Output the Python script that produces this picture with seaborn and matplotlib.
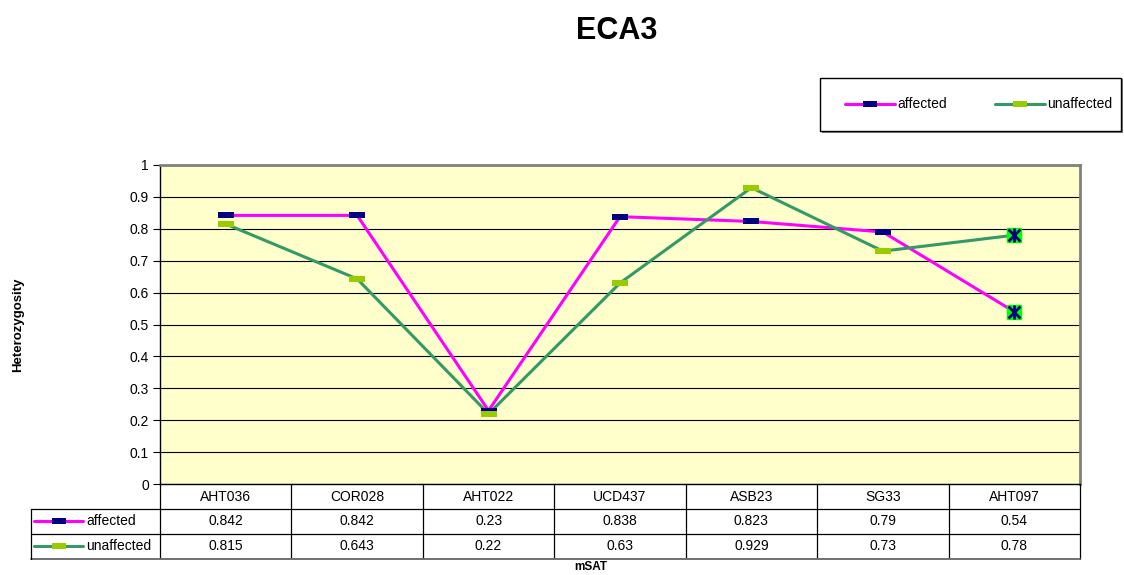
import numpy as np
import pandas as pd
import matplotlib
matplotlib.use("Agg")
import matplotlib.pyplot as plt
import seaborn as sns
from matplotlib.lines import Line2D
from matplotlib.patches import Rectangle
from matplotlib.path import Path
from matplotlib.transforms import blended_transform_factory

# ---------------- data ----------------
categories = ["AHT036", "COR028", "AHT022", "UCD437", "ASB23", "SG33", "AHT097"]
affected = [0.842, 0.842, 0.23, 0.838, 0.823, 0.79, 0.54]
unaffected = [0.815, 0.643, 0.22, 0.63, 0.929, 0.73, 0.78]
series_names = ["affected", "unaffected"]
ytick_values = [0, 0.1, 0.2, 0.3, 0.4, 0.5, 0.6, 0.7, 0.8, 0.9, 1]
ytick_labels = ["0", "0.1", "0.2", "0.3", "0.4", "0.5", "0.6", "0.7", "0.8", "0.9", "1"]
affected_labels = ["0.842", "0.842", "0.23", "0.838", "0.823", "0.79", "0.54"]
unaffected_labels = ["0.815", "0.643", "0.22", "0.63", "0.929", "0.73", "0.78"]
title = "ECA3"
xlabel = "mSAT"
ylabel = "Heterozygosity"

# ---------------- style ----------------
sns.set_theme(style="white")
plt.rcParams["font.family"] = ["Liberation Sans", "DejaVu Sans"]
plt.rcParams["text.color"] = "black"
plt.rcParams["ytick.color"] = "black"
plt.rcParams["ytick.labelcolor"] = "black"

line_colors = {"affected": "#FF00FF", "unaffected": "#339966"}
marker_colors = {"affected": "#000080", "unaffected": "#99CC00"}

W, H = 1124, 575
fig = plt.figure(figsize=(W / 100, H / 100), dpi=100)
fig.patch.set_facecolor("white")

def fx(px):
    return px / W

def fy(py):
    return 1 - py / H

left_px, right_px, top_px, bottom_px = 160, 1080, 165, 484
ax = fig.add_axes([fx(left_px), fy(bottom_px), fx(right_px) - fx(left_px), fy(top_px) - fy(bottom_px)])
ax.set_facecolor("#FFFFCC")

df = pd.DataFrame({
    "mSAT": categories * 2,
    "pos": list(range(len(categories))) * 2,
    "value": affected + unaffected,
    "group": ["affected"] * len(categories) + ["unaffected"] * len(categories),
})

sns.lineplot(data=df, x="pos", y="value", hue="group", palette=line_colors,
             sort=False, linewidth=2.2, legend=False, ax=ax, zorder=3)

# dash-like rectangle marker
rect_marker = Path([(-1, -0.35), (1, -0.35), (1, 0.35), (-1, 0.35), (-1, -0.35)],
                   [Path.MOVETO, Path.LINETO, Path.LINETO, Path.LINETO, Path.CLOSEPOLY])

n = len(categories)
last = n - 1
for name, vals in zip(series_names, [affected, unaffected]):
    xs = np.arange(n)
    ax.plot(xs[:last], vals[:last], ls="none", marker=rect_marker, ms=11.5,
            mfc=marker_colors[name], mec=marker_colors[name], mew=0, zorder=4)
    # last point: Excel-style square with asterisk
    ax.plot([xs[last]], [vals[last]], ls="none", marker="s", ms=10,
            mfc="#00FF00", mec="#00FF00", zorder=5)
    ax.plot([xs[last]], [vals[last]], ls="none", marker="x", ms=9,
            mec="#000080", mew=2, zorder=6)
    ax.plot([xs[last]], [vals[last]], ls="none", marker="|", ms=10,
            mec="#000080", mew=2, zorder=6)

ax.set_xlim(-0.5, n - 0.5)
ax.set_ylim(0, 1)
ax.set_yticks(ytick_values)
ax.set_yticklabels(ytick_labels, fontsize=10, color="black")
ax.set_xticks([])
ax.set_xlabel("")
ax.set_ylabel("")
ax.yaxis.grid(True, color="black", linewidth=0.8)
ax.set_axisbelow(True)
ax.tick_params(axis="y", direction="out", length=5, width=0.8, color="black", pad=3, left=True)
ax.spines["left"].set_color("black")
ax.spines["left"].set_linewidth(1)
ax.spines["bottom"].set_color("black")
ax.spines["bottom"].set_linewidth(1)
for s in ["top", "right"]:
    ax.spines[s].set_color("#808080")
    ax.spines[s].set_linewidth(2)

# ---------------- data table ----------------
tr = blended_transform_factory(ax.transData, fig.transFigure)
row_y = [484, 509, 534, 559]
table_left = 31
lw = 0.9
tfs = 10
# vertical column lines
for i in range(n + 1):
    xv = -0.5 + i
    fig.add_artist(Line2D([xv, xv], [fy(row_y[0]), fy(row_y[3])], transform=tr,
                          color="black", lw=lw))
# horizontal lines
for k, yy in enumerate(row_y[1:]):
    fig.add_artist(Line2D([fx(table_left), fx(right_px)], [fy(yy), fy(yy)],
                          color="black" if k < 2 else "#707070", lw=lw if k < 2 else 1.4))
fig.add_artist(Line2D([fx(table_left), fx(table_left)], [fy(row_y[1]), fy(row_y[3])],
                      color="black", lw=lw))

for i, cat in enumerate(categories):
    fig.text(i, fy(497), cat, transform=tr, ha="center", va="center", fontsize=tfs)
    fig.text(i, fy(521), affected_labels[i], transform=tr, ha="center", va="center", fontsize=tfs)
    fig.text(i, fy(546), unaffected_labels[i], transform=tr, ha="center", va="center", fontsize=tfs)

def legend_key(x0, x1, yc, name):
    fig.add_artist(Line2D([fx(x0), fx(x1)], [fy(yc), fy(yc)], color=line_colors[name], lw=2.2))
    fig.add_artist(Line2D([fx((x0 + x1) / 2)], [fy(yc)], ls="none", marker=rect_marker,
                          ms=10.5, mfc=marker_colors[name], mec=marker_colors[name], mew=0))

for name, yc in zip(series_names, [521, 546]):
    legend_key(34, 83, yc, name)
    fig.text(fx(86), fy(yc), name, ha="left", va="center", fontsize=tfs)

# ---------------- top legend ----------------
fig.add_artist(Rectangle((fx(822), fy(133)), fx(1123) - fx(822), fy(79) - fy(133),
                         facecolor="#808080", edgecolor="none", zorder=1))
fig.add_artist(Rectangle((fx(820), fy(131)), fx(1121) - fx(820), fy(78) - fy(131),
                         facecolor="white", edgecolor="black", lw=1, zorder=2))
for name, (x0, x1) in zip(series_names, [(845, 895), (995, 1045)]):
    fig.add_artist(Line2D([fx(x0), fx(x1)], [fy(104), fy(104)], color=line_colors[name], lw=2.2, zorder=3))
    fig.add_artist(Line2D([fx((x0 + x1) / 2)], [fy(104)], ls="none", marker=rect_marker,
                          ms=10.5, mfc=marker_colors[name], mec=marker_colors[name], mew=0, zorder=4))
    fig.text(fx(x1 + 2), fy(104), name, ha="left", va="center", fontsize=tfs, zorder=4)

# ---------------- titles ----------------
fig.text(fx(617), fy(31), title, ha="center", va="center", fontsize=22, fontweight="bold")
fig.text(fx(591), fy(567), xlabel, ha="center", va="center", fontsize=8.5, fontweight="bold")
fig.text(fx(18), fy(325), ylabel, ha="center", va="center", rotation=90, fontsize=9.5, fontweight="bold")

fig.savefig("out.png", dpi=100, facecolor="white")
